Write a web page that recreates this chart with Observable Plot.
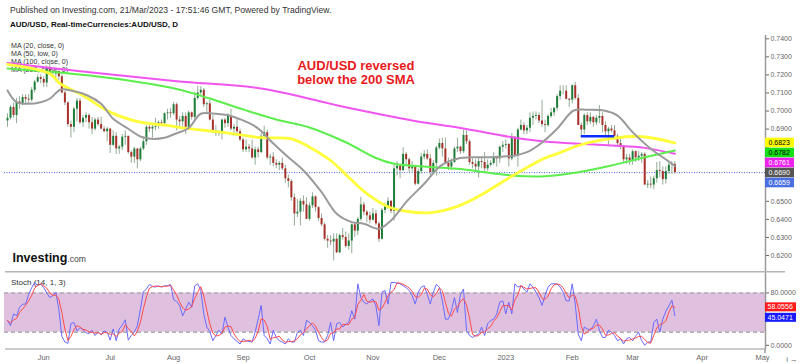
<!DOCTYPE html>
<html><head><meta charset="utf-8">
<script src="https://cdn.jsdelivr.net/npm/d3@7"></script>
<script src="https://cdn.jsdelivr.net/npm/@observablehq/plot@0.6"></script>
<style>
body{margin:0;background:#fff;}
#wrap{position:relative;width:800px;height:364px;overflow:hidden;font-family:"Liberation Sans",Arial,sans-serif;background:#fff;}
#wrap svg{position:absolute;left:0;}
</style></head><body><div id="wrap"></div>
<script>
// Daily bars, weekdays from 2022-05-16 (index 0) to 2023-03-21 (index 221)
const open = [
0.6945,0.6960,0.7020,0.6975,0.7050,0.7040,0.7075,0.7065,0.7060,0.7115,
0.7160,0.7185,0.7175,0.7155,0.7240,0.7205,0.7205,0.7220,0.7190,0.7100,
0.7045,0.6925,0.6910,0.7010,0.7055,0.6935,0.6960,0.6975,0.6935,0.6900,
0.6950,0.6925,0.6900,0.6885,0.6900,0.6810,0.6860,0.6790,0.6800,0.6855,
0.6860,0.6770,0.6745,0.6790,0.6730,0.6790,0.6830,0.6910,0.6900,0.6910,
0.6915,0.6935,0.6930,0.6985,0.6990,0.6985,0.7035,0.6950,0.6940,0.6970,
0.6910,0.6990,0.6965,0.7070,0.7100,0.7115,0.7035,0.7040,0.6950,0.6890,
0.6875,0.6880,0.6950,0.6930,0.6970,0.6900,0.6910,0.6885,0.6840,0.6785,
0.6800,0.6790,0.6740,0.6785,0.6770,0.6860,0.6880,0.6740,0.6745,0.6710,
0.6700,0.6710,0.6680,0.6625,0.6610,0.6520,0.6430,0.6440,0.6500,0.6480,
0.6400,0.6475,0.6525,0.6465,0.6405,0.6370,0.6290,0.6280,0.6275,0.6290,
0.6215,0.6310,0.6300,0.6250,0.6280,0.6370,0.6335,0.6400,0.6480,0.6440,
0.6420,0.6395,0.6430,0.6375,0.6290,0.6450,0.6470,0.6500,0.6445,0.6680,
0.6695,0.6670,0.6760,0.6730,0.6680,0.6690,0.6595,0.6665,0.6745,0.6760,
0.6735,0.6660,0.6710,0.6795,0.6820,0.6790,0.6710,0.6690,0.6715,0.6790,
0.6800,0.6775,0.6865,0.6830,0.6715,0.6705,0.6690,0.6720,0.6715,0.6680,
0.6700,0.6710,0.6745,0.6735,0.6800,0.6810,0.6815,0.6735,0.6855,0.6750,
0.6895,0.6920,0.6890,0.6905,0.6960,0.6970,0.6975,0.6945,0.6925,0.6920,
0.6970,0.6990,0.7015,0.7080,0.7110,0.7110,0.7065,0.7060,0.7140,0.7070,
0.6920,0.6895,0.6975,0.6940,0.6965,0.6935,0.6960,0.6970,0.6920,0.6885,
0.6900,0.6890,0.6860,0.6820,0.6805,0.6730,0.6740,0.6725,0.6775,0.6740,
0.6750,0.6760,0.6590,0.6595,0.6590,0.6625,0.6670,0.6665,0.6620,0.6665,
0.6700,0.6705];
const high = [
0.6985,0.7030,0.7045,0.7070,0.7080,0.7090,0.7090,0.7090,0.7130,0.7170,
0.7200,0.7200,0.7190,0.7250,0.7283,0.7235,0.7225,0.7220,0.7200,0.7110,
0.7050,0.6945,0.7020,0.7070,0.7070,0.6975,0.6990,0.6985,0.6965,0.6960,
0.6965,0.6965,0.6915,0.6910,0.6905,0.6890,0.6880,0.6810,0.6870,0.6890,
0.6860,0.6780,0.6800,0.6790,0.6800,0.6855,0.6920,0.6935,0.6920,0.6960,
0.6945,0.6950,0.6990,0.7010,0.7015,0.7047,0.7045,0.6970,0.6990,0.6990,
0.7000,0.6995,0.7105,0.7137,0.7135,0.7125,0.7050,0.7060,0.6975,0.6920,
0.6890,0.6955,0.6960,0.6985,0.7010,0.6925,0.6955,0.6900,0.6850,0.6840,
0.6815,0.6840,0.6800,0.6800,0.6875,0.6916,0.6895,0.6760,0.6770,0.6730,
0.6720,0.6740,0.6700,0.6645,0.6620,0.6540,0.6510,0.6515,0.6530,0.6520,
0.6490,0.6547,0.6530,0.6470,0.6430,0.6380,0.6310,0.6310,0.6320,0.6320,
0.6320,0.6350,0.6330,0.6320,0.6375,0.6380,0.6410,0.6522,0.6495,0.6450,
0.6440,0.6460,0.6450,0.6385,0.6460,0.6490,0.6520,0.6505,0.6700,0.6720,
0.6700,0.6797,0.6770,0.6740,0.6720,0.6700,0.6680,0.6765,0.6780,0.6785,
0.6760,0.6725,0.6805,0.6845,0.6850,0.6850,0.6740,0.6735,0.6800,0.6850,
0.6805,0.6893,0.6890,0.6840,0.6735,0.6730,0.6740,0.6740,0.6770,0.6730,
0.6725,0.6770,0.6750,0.6805,0.6830,0.6840,0.6820,0.6875,0.6860,0.6905,
0.6950,0.6935,0.6920,0.6990,0.6995,0.6995,0.6990,0.7060,0.6950,0.6980,
0.7015,0.7020,0.7090,0.7140,0.7140,0.7140,0.7070,0.7145,0.7158,0.7090,
0.6935,0.6985,0.6990,0.6990,0.6970,0.6975,0.7030,0.6990,0.6940,0.6910,
0.6920,0.6920,0.6870,0.6850,0.6810,0.6760,0.6760,0.6785,0.6780,0.6775,
0.6770,0.6770,0.6615,0.6635,0.6640,0.6715,0.6720,0.6690,0.6690,0.6715,
0.6720,0.6720];
const low = [
0.6910,0.6950,0.6960,0.6930,0.7010,0.7030,0.7035,0.7040,0.7050,0.7100,
0.7155,0.7150,0.7130,0.7130,0.7200,0.7180,0.7160,0.7170,0.7095,0.7030,
0.6910,0.6850,0.6880,0.6940,0.6925,0.6910,0.6935,0.6900,0.6870,0.6890,
0.6915,0.6895,0.6880,0.6830,0.6765,0.6805,0.6760,0.6760,0.6780,0.6810,
0.6760,0.6710,0.6710,0.6680,0.6720,0.6780,0.6810,0.6880,0.6850,0.6890,
0.6900,0.6915,0.6925,0.6950,0.6960,0.6975,0.6890,0.6900,0.6910,0.6870,
0.6905,0.6950,0.6950,0.7060,0.7080,0.7020,0.6990,0.6945,0.6875,0.6860,
0.6860,0.6840,0.6905,0.6910,0.6890,0.6860,0.6875,0.6830,0.6770,0.6770,
0.6770,0.6735,0.6700,0.6740,0.6765,0.6840,0.6730,0.6700,0.6690,0.6680,
0.6670,0.6670,0.6600,0.6575,0.6500,0.6363,0.6410,0.6365,0.6440,0.6400,
0.6390,0.6460,0.6440,0.6390,0.6360,0.6280,0.6240,0.6255,0.6170,0.6210,
0.6210,0.6285,0.6240,0.6230,0.6210,0.6300,0.6310,0.6390,0.6420,0.6380,
0.6375,0.6390,0.6365,0.6272,0.6285,0.6430,0.6455,0.6430,0.6390,0.6640,
0.6625,0.6665,0.6700,0.6660,0.6660,0.6585,0.6590,0.6650,0.6730,0.6725,
0.6640,0.6650,0.6640,0.6785,0.6745,0.6705,0.6670,0.6670,0.6710,0.6770,
0.6760,0.6765,0.6815,0.6700,0.6680,0.6660,0.6629,0.6680,0.6660,0.6665,
0.6690,0.6700,0.6690,0.6710,0.6770,0.6790,0.6690,0.6725,0.6740,0.6690,
0.6890,0.6870,0.6870,0.6880,0.6920,0.6950,0.6930,0.6910,0.6880,0.6910,
0.6960,0.6970,0.7000,0.7060,0.7090,0.7060,0.7020,0.7040,0.7060,0.6920,
0.6855,0.6870,0.6920,0.6925,0.6910,0.6920,0.6930,0.6880,0.6860,0.6810,
0.6880,0.6850,0.6800,0.6785,0.6710,0.6705,0.6700,0.6700,0.6715,0.6720,
0.6710,0.6590,0.6570,0.6570,0.6564,0.6600,0.6630,0.6590,0.6595,0.6650,
0.6650,0.6650];
const close = [
0.6960,0.7020,0.6975,0.7050,0.7040,0.7075,0.7065,0.7060,0.7115,0.7160,
0.7185,0.7175,0.7155,0.7240,0.7205,0.7205,0.7220,0.7190,0.7100,0.7045,
0.6925,0.6910,0.7010,0.7055,0.6935,0.6960,0.6975,0.6935,0.6900,0.6950,
0.6925,0.6900,0.6885,0.6900,0.6810,0.6860,0.6790,0.6800,0.6855,0.6860,
0.6770,0.6745,0.6790,0.6730,0.6790,0.6830,0.6910,0.6900,0.6910,0.6915,
0.6935,0.6930,0.6985,0.6990,0.6985,0.7035,0.6950,0.6940,0.6970,0.6910,
0.6990,0.6965,0.7070,0.7100,0.7115,0.7035,0.7040,0.6950,0.6890,0.6875,
0.6880,0.6950,0.6930,0.6970,0.6900,0.6910,0.6885,0.6840,0.6785,0.6800,
0.6790,0.6740,0.6785,0.6770,0.6860,0.6880,0.6740,0.6745,0.6710,0.6700,
0.6710,0.6680,0.6625,0.6610,0.6520,0.6430,0.6440,0.6500,0.6480,0.6400,
0.6475,0.6525,0.6465,0.6405,0.6370,0.6290,0.6280,0.6275,0.6290,0.6215,
0.6310,0.6300,0.6250,0.6280,0.6370,0.6335,0.6400,0.6480,0.6440,0.6420,
0.6395,0.6430,0.6375,0.6290,0.6450,0.6470,0.6500,0.6445,0.6680,0.6695,
0.6670,0.6760,0.6730,0.6680,0.6690,0.6595,0.6665,0.6745,0.6760,0.6735,
0.6660,0.6710,0.6795,0.6820,0.6790,0.6710,0.6690,0.6715,0.6790,0.6800,
0.6775,0.6865,0.6830,0.6715,0.6705,0.6690,0.6720,0.6715,0.6680,0.6700,
0.6710,0.6745,0.6735,0.6800,0.6810,0.6815,0.6735,0.6855,0.6750,0.6895,
0.6920,0.6890,0.6905,0.6960,0.6970,0.6975,0.6945,0.6925,0.6920,0.6970,
0.6990,0.7015,0.7080,0.7110,0.7110,0.7065,0.7060,0.7140,0.7070,0.6920,
0.6895,0.6975,0.6940,0.6965,0.6935,0.6960,0.6970,0.6920,0.6885,0.6900,
0.6890,0.6860,0.6820,0.6805,0.6730,0.6740,0.6725,0.6775,0.6740,0.6750,
0.6760,0.6590,0.6595,0.6590,0.6625,0.6670,0.6665,0.6620,0.6665,0.6700,
0.6705,0.6659];

// Moving averages: [bar index, value]
const ma20 = [[0,0.7114],[3,0.7049],[7,0.7040],[11,0.7049],[14,0.7068],[17.5,0.7118],[21,0.7114],[26.5,0.7086],[31,0.7040],[35,0.6957],[40,0.6902],[44,0.6859],[47.5,0.6846],[52,0.6852],[56,0.6877],[60,0.6906],[64,0.6985],[68,0.6986],[74,0.6973],[78,0.6948],[81.5,0.6920],[84,0.6890],[87,0.6837],[93,0.6744],[98,0.6671],[104,0.6551],[109,0.6431],[114,0.6385],[118,0.6376],[123,0.6348],[127,0.6394],[132.5,0.6505],[138,0.6597],[143.5,0.6698],[149,0.6736],[155,0.6744],[160,0.6744],[168,0.6754],[172,0.6772],[176.5,0.6819],[182,0.6902],[187.5,0.7003],[192,0.7007],[197.5,0.7003],[202,0.6975],[207,0.6883],[213,0.6791],[218.5,0.6726],[221,0.6695]];
const ma50 = [[0,0.7258],[14,0.7206],[17.5,0.7151],[25,0.7086],[34,0.6994],[44,0.6938],[53,0.6920],[60,0.6902],[70.5,0.6883],[84,0.6853],[94,0.6846],[100,0.6800],[107,0.6726],[112,0.6649],[119,0.6542],[126,0.6470],[132,0.6445],[140,0.6437],[149,0.6472],[156.5,0.6532],[166.5,0.6634],[177.5,0.6736],[183,0.6770],[189,0.6809],[196,0.6837],[207,0.6859],[213,0.6852],[221,0.6823]];
const ma100 = [[0,0.7236],[28,0.7195],[56,0.7122],[67,0.7069],[78,0.7009],[89,0.6953],[100,0.6909],[112,0.6827],[122,0.6740],[128,0.6708],[139,0.6691],[150,0.6679],[161,0.6654],[167,0.6643],[178,0.6639],[189,0.6661],[200,0.6698],[211,0.6744],[221,0.6782]];
const ma200 = [[0,0.7266],[28,0.7213],[56,0.7165],[84,0.7125],[112,0.7021],[134,0.6948],[150,0.6906],[167,0.6855],[178,0.6831],[189,0.6819],[200,0.6809],[211,0.6796],[221,0.6763]];
const maLegend = ["MA (20, close, 0)", "MA (50, low, 0)", "MA (100, close, 0)", "MA (200, close, 0)"];

// Stochastic %K (14, 1, 3)
const stochK = [
38,30,48,45,58,63,63,78,88,96, 91,94,88,80,73,76,81,55,14,5,
3,33,35,22,27,24,19,18,23,15, 20,16,22,20,8,25,7,25,31,39,
8,15,20,30,55,82,86,93,90,89, 91,89,91,91,93,70,67,61,45,55,
66,58,91,94,84,48,28,21,7,15, 23,17,43,28,15,10,6,2,10,7,
6,5,20,40,61,15,10,2,23,12, 7,5,2,10,5,5,20,23,15,38,
35,30,23,7,5,5,15,35,7,33, 35,28,32,35,53,40,94,73,66,63,
68,71,60,30,81,84,63,96,96,95, 94,91,88,84,76,63,81,89,91,78,
63,81,93,89,68,40,40,53,73,50, 78,86,23,15,12,15,17,28,15,33,
38,40,48,66,68,48,66,48,94,89, 91,86,81,94,89,81,73,61,76,89,
94,94,94,89,81,68,68,94,63,17, 7,28,25,23,30,40,23,12,12,23,
20,15,7,10,2,10,12,7,14,20, 7,0,5,5,35,40,20,40,52,60,
69,45.0471];

const priceTicks = [0.62,0.63,0.64,0.65,0.66,0.67,0.68,0.69,0.70,0.71,0.72,0.73,0.74];
const stochTicks = [0, 80];
const stochBand = [{lo: 20, hi: 80}];
const monthIdx = [12,34,55,78,100,121,143,165,187,207,230,250];
const monthLabels = ["Jun","Jul","Aug","Sep","Oct","Nov","Dec","2023","Feb","Mar","Apr","May"];
const lastPrice = 0.6659;
const support = [{i1: 190, i2: 201, v: 0.6861}];
const priceLabelVal = [0.6823, 0.6782, 0.6761, 0.6690, 0.6659];
const priceLabelBg = ["#ffff00", "#16e016", "#ee22ee", "#555555", "#4a6fe3"];
const priceLabelFg = ["#000000", "#000000", "#ffffff", "#ffffff", "#ffffff"];
const stochLabelVal = [58.0556, 45.0471];
const stochLabelBg = ["#ff1a1a", "#1a1aff"];
const annotLines = ["AUD/USD reversed", "below the 200 SMA"];

const bars = close.map((c, i) => ({i, o: open[i], h: high[i], l: low[i], c}));
const toPts = a => a.map(([i, v]) => ({i, v}));
const kData = stochK.map((k, i) => ({i, k}));

const wrap = document.getElementById("wrap");
const FONT = "Liberation Sans, Arial, sans-serif";
const priceY = {domain: [0.62, 0.74], range: [255, 38.3]};
const stochY = {domain: [0, 100], range: [72.8, 7.4]};

function stackLabels(items, gap) {
  items.sort((a, b) => a.y - b.y);
  for (let k = 1; k < items.length; k++) if (items[k].y < items[k - 1].y + gap) items[k].y = items[k - 1].y + gap;
  return items;
}
// value labels on the price axis (stacked like the platform does); they cover tick labels
const yS = Plot.scale({y: priceY});
const priceLabels = stackLabels(priceLabelVal.map((v, k) => ({v, y: yS.apply(v), bg: priceLabelBg[k], fg: priceLabelFg[k]})), 10);
const visibleTicks = priceTicks.filter(t => !priceLabels.some(d => Math.abs(yS.apply(t) - d.y) < 8.5));

// back overlay: header, legend, annotation, logo
const back = d3.create("svg").attr("width", 800).attr("height", 364).style("top", "0px")
  .attr("font-family", FONT);
back.append("text").attr("x", 10).attr("y", 13).attr("font-size", 8.6).attr("fill", "#333")
  .text("Published on Investing.com, 21/Mar/2023 - 17:51:46 GMT, Powered by TradingView.");
back.append("text").attr("x", 10).attr("y", 27.3).attr("font-size", 8).attr("font-weight", "bold").attr("fill", "#111")
  .text("AUD/USD, Real-timeCurrencies:AUD/USD, D");
maLegend.forEach((t, k) => back.append("text").attr("x", 11).attr("y", 47.6 + 8 * k).attr("font-size", 7.1).attr("fill", "#333").text(t));
annotLines.forEach((t, k) => back.append("text").attr("x", 356).attr("y", 70 + 14 * k).attr("text-anchor", "middle")
  .attr("font-size", 13).attr("font-weight", "bold").attr("fill", "#e8191b").text(t));
const logo = back.append("text").attr("x", 12.5).attr("y", 262).attr("fill", "#111");
logo.append("tspan").attr("font-size", 12.5).attr("font-weight", "bold").text("Investing");
logo.append("tspan").attr("font-size", 8.6).attr("fill", "#444").text(".com");
back.append("text").attr("x", 11).attr("y", 285).attr("font-size", 8).attr("fill", "#333").text("Stoch (14, 1, 3)");
wrap.appendChild(back.node());

const price = Plot.plot({
  width: 800, height: 272,
  marginTop: 35, marginBottom: 0, marginLeft: 4, marginRight: 35,
  style: {background: "transparent", fontFamily: FONT, fontSize: "7px", color: "#666"},
  x: {domain: [0, 251], range: [7, 765], axis: null},
  y: {...priceY, axis: null},
  marks: [
    Plot.ruleY([lastPrice], {stroke: "#4466dd", strokeDasharray: "1,1.5", strokeWidth: 1}),
    Plot.ruleX(bars, {x: "i", y1: "l", y2: "h", stroke: "#93ac96", strokeWidth: 1}),
    Plot.ruleX(bars, {x: "i", y1: "o", y2: "c", stroke: d => d.c >= d.o ? "#1f7d3a" : "#a8302a", strokeWidth: 2}),
    Plot.line(toPts(ma200), {x: "i", y: "v", stroke: "#f055f0", strokeWidth: 2, curve: "catmull-rom"}),
    Plot.line(toPts(ma100), {x: "i", y: "v", stroke: "#5cee4c", strokeWidth: 2, curve: "catmull-rom"}),
    Plot.line(toPts(ma50), {x: "i", y: "v", stroke: "#ffff3a", strokeWidth: 2.8, curve: "catmull-rom"}),
    Plot.line(toPts(ma20), {x: "i", y: "v", stroke: "#9a9a9a", strokeWidth: 2, curve: "catmull-rom"}),
    Plot.ruleY(support, {y: "v", x1: "i1", x2: "i2", stroke: "#0a2cff", strokeWidth: 2.5}),
    Plot.ruleX([251], {stroke: "#999", strokeWidth: 1.5}),
    Plot.axisY(priceTicks, {anchor: "right", tickFormat: () => "", tickSize: 3, tickPadding: 2}),
    Plot.axisY(visibleTicks, {anchor: "right", tickFormat: d => d.toFixed(4), tickSize: 0, tickPadding: 5})
  ]
});
price.style.top = "0px";
wrap.appendChild(price);

const stoch = Plot.plot({
  width: 800, height: 92,
  marginTop: 0, marginBottom: 15, marginLeft: 4, marginRight: 35,
  style: {background: "transparent", fontFamily: FONT, fontSize: "7px", color: "#666"},
  x: {domain: [0, 251], range: [7, 765], axis: null},
  y: {...stochY, axis: null},
  marks: [
    Plot.rect(stochBand, {y1: "lo", y2: "hi", fill: "#dfc1df"}),
    Plot.ruleY(stochBand.flatMap(b => [b.lo, b.hi]), {stroke: "#999", strokeDasharray: "4,3", strokeWidth: 1.2}),
    Plot.line(kData, {x: "i", y: "k", stroke: "#6a6aff", strokeWidth: 1}),
    Plot.line(kData, Plot.windowY({k: 3, anchor: "end"}, {x: "i", y: "k", stroke: "#ff4a4a", strokeWidth: 1})),
    Plot.ruleX([251], {stroke: "#999", strokeWidth: 1.5}),
    Plot.axisY(stochTicks, {anchor: "right", tickFormat: d => d.toFixed(4), tickSize: 3, tickPadding: 2}),
    Plot.axisX(monthIdx, {anchor: "bottom", tickFormat: d => monthLabels[monthIdx.indexOf(d)], tickSize: 0, tickPadding: 5, fontSize: 7.5})
  ]
});
stoch.style.top = "272px";
wrap.appendChild(stoch);

// front overlay: separators and value labels
const front = d3.create("svg").attr("width", 800).attr("height", 364).style("top", "0px").attr("font-family", FONT);
front.append("line").attr("x1", 5).attr("x2", 785).attr("y1", 271.7).attr("y2", 271.7).attr("stroke", "#b5b5b5").attr("stroke-width", 1.5);
front.append("line").attr("x1", 5).attr("x2", 765).attr("y1", 349).attr("y2", 349).attr("stroke", "#999").attr("stroke-width", 1.2);
front.append("line").attr("x1", 765).attr("x2", 765).attr("y1", 349).attr("y2", 353).attr("stroke", "#999").attr("stroke-width", 1.5);

priceLabels.forEach(d => {
  front.append("rect").attr("x", 765).attr("y", d.y - 4.8).attr("width", 29).attr("height", 9.6).attr("fill", d.bg);
  front.append("text").attr("x", 768.5).attr("y", d.y + 2.5).attr("font-size", 7).attr("fill", d.fg).text(d.v.toFixed(4));
});
const ss = stoch.scale("y");
stackLabels(stochLabelVal.map((v, k) => ({v, y: ss.apply(v) + 272, bg: stochLabelBg[k], fg: "#fff"})), 10.5).forEach(d => {
  front.append("rect").attr("x", 765).attr("y", d.y - 4.5).attr("width", 31).attr("height", 9).attr("fill", d.bg);
  front.append("text").attr("x", 767.5).attr("y", d.y + 2.5).attr("font-size", 7).attr("fill", d.fg).text(d.v.toFixed(4));
});
wrap.appendChild(front.node());
</script></body></html>
